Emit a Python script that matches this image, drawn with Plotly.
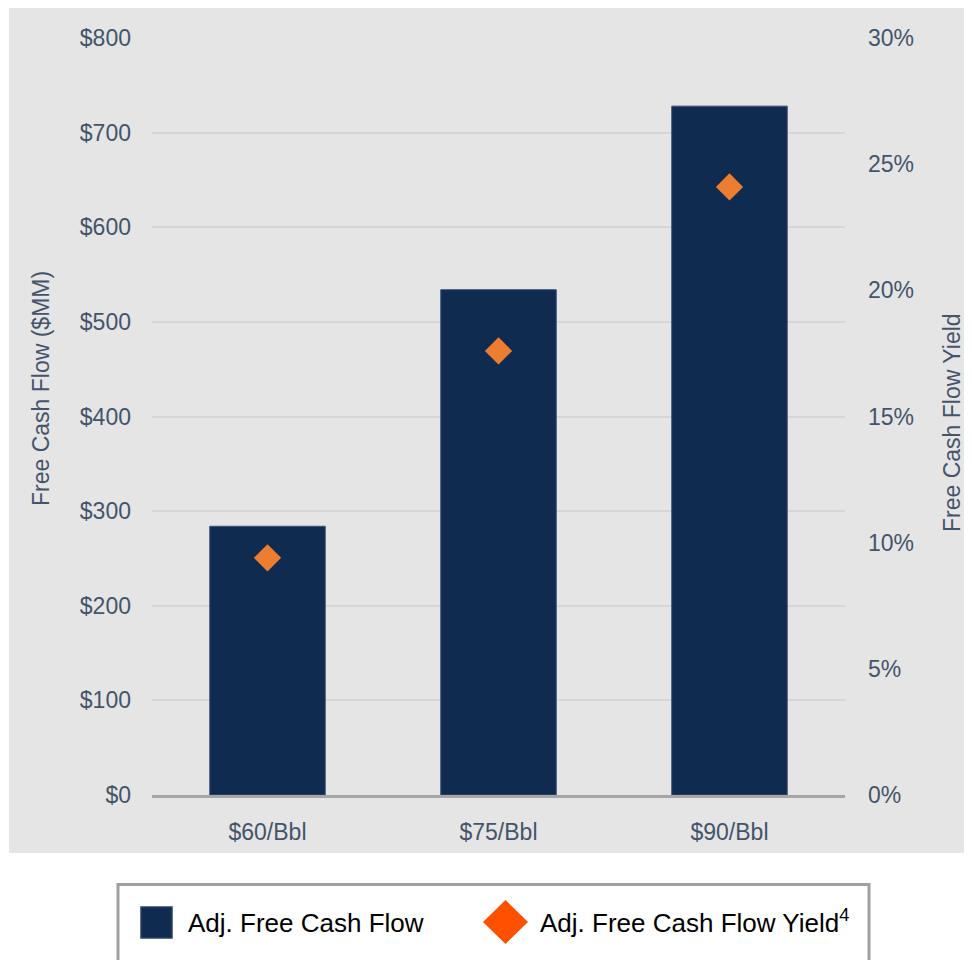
import plotly.graph_objects as go

# ---- data ----
categories = ["$60/Bbl", "$75/Bbl", "$90/Bbl"]
fcf_values = [284, 534, 728]          # $MM
fcf_yield = [0.094, 0.176, 0.241]     # fraction
series_names = ["Adj. Free Cash Flow", "Adj. Free Cash Flow Yield<sup>4</sup>"]
y_title = "Free Cash Flow ($MM)"
y2_title = "Free Cash Flow Yield"

# ---- geometry (screen pixels; page body has an 8px margin) ----
OFF = 8
W, H = 972 - OFF, 960 - OFF
PL, PR, PT, PB = 152, 845, 38, 795   # plot area edges in screen pixels


def px(x):
    return (x - PL) / (PR - PL)


def py(y):
    return (PB - y) / (PB - PT)


FONT = "Arial, Liberation Sans, sans-serif"
TICK_COLOR = "#44546A"
BAR_COLOR = "#0F2B50"
DIAMOND_COLOR = "#ED7D31"
LEGEND_DIAMOND = "#FF5000"

fig = go.Figure()
fig.add_trace(go.Bar(
    x=categories, y=fcf_values, name=series_names[0],
    marker=dict(color=BAR_COLOR, line=dict(color="#3A5275", width=1)),
    showlegend=False, yaxis="y",
))
fig.add_trace(go.Scatter(
    x=categories, y=fcf_yield, name=series_names[1], mode="markers",
    marker=dict(symbol="diamond", size=21, color=DIAMOND_COLOR, line=dict(width=0)),
    showlegend=False, yaxis="y2",
))

shapes = [
    # gray chart background
    dict(type="rect", xref="paper", yref="paper", layer="below",
         x0=px(9), x1=px(975), y0=py(853), y1=py(8),
         fillcolor="#E5E5E5", line=dict(width=0)),
    # legend box
    dict(type="rect", xref="paper", yref="paper",
         x0=px(118), x1=px(869), y0=py(985), y1=py(884.5),
         fillcolor="white", line=dict(color="#A0A0A4", width=3)),
    # legend square
    dict(type="rect", xref="paper", yref="paper",
         x0=px(141), x1=px(172), y0=py(938), y1=py(907),
         fillcolor=BAR_COLOR, line=dict(color="#2A4266", width=1.5)),
    # legend diamond
    dict(type="path", xref="paper", yref="paper",
         path="M {} {} L {} {} L {} {} L {} {} Z".format(
             px(483), py(922), px(505.5), py(900), px(528), py(922), px(505.5), py(944)),
         fillcolor=LEGEND_DIAMOND, line=dict(width=0)),
]

annotations = [
    dict(text=y_title, xref="paper", yref="paper", x=px(41), y=py(389),
         textangle=-90, showarrow=False, xanchor="center", yanchor="middle",
         font=dict(family=FONT, size=23, color=TICK_COLOR)),
    dict(text=y2_title, xref="paper", yref="paper", x=px(952), y=py(422),
         textangle=-90, showarrow=False, xanchor="center", yanchor="middle",
         font=dict(family=FONT, size=23, color=TICK_COLOR)),
    dict(text=series_names[0], xref="paper", yref="paper", x=px(186), y=py(923),
         showarrow=False, xanchor="left", yanchor="middle",
         font=dict(family=FONT, size=26, color="#000000")),
    dict(text=series_names[1], xref="paper", yref="paper", x=px(538), y=py(921),
         showarrow=False, xanchor="left", yanchor="middle",
         font=dict(family=FONT, size=26, color="#000000")),
]

fig.update_layout(
    width=W, height=H,
    margin=dict(l=PL - OFF, r=972 - PR, t=PT - OFF, b=960 - PB, pad=0),
    paper_bgcolor="white", plot_bgcolor="rgba(0,0,0,0)",
    font=dict(family=FONT, size=23, color=TICK_COLOR),
    bargap=0.5, showlegend=False,
    shapes=shapes, annotations=annotations,
    xaxis=dict(showgrid=False, showline=True, linecolor="#A6A6A6", linewidth=3,
               ticks="", ticklabelstandoff=14, zeroline=False,
               tickfont=dict(family=FONT, size=23, color=TICK_COLOR)),
    yaxis=dict(range=[0, 800], dtick=100, tickprefix="$", showgrid=True,
               gridcolor="#D6D6D6", gridwidth=2, zeroline=False, showline=False,
               ticks="", ticklabelstandoff=20,
               tickfont=dict(family=FONT, size=23, color=TICK_COLOR)),
    yaxis2=dict(range=[0, 0.30], dtick=0.05, tickformat=".0%", overlaying="y",
                side="right", showgrid=False, zeroline=False, showline=False,
                ticks="", ticklabelstandoff=22,
                tickfont=dict(family=FONT, size=23, color=TICK_COLOR)),
)

fig.write_html("out.html")
